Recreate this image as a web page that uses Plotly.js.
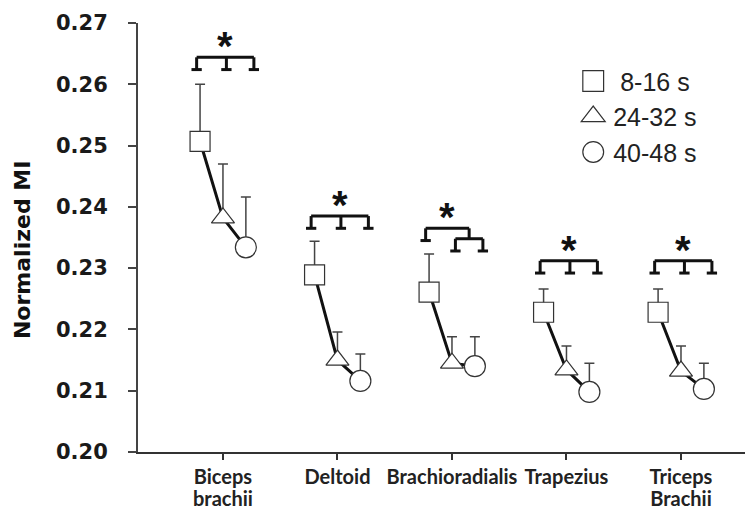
<!DOCTYPE html>
<html>
<head>
<meta charset="utf-8">
<script src="https://cdn.plot.ly/plotly-3.0.1.min.js"></script>
<style>
  html, body { margin: 0; padding: 0; background: #fff; }
  #chart { width: 745px; height: 509px; }
  /* larger symbols in the legend (legend markers are capped at 16px) */
  #chart .legendpoints path.scatterpts {
    transform: translate(20px, 0px) scale(1.3);
    vector-effect: non-scaling-stroke;
  }
</style>
</head>
<body>
<div id="chart"></div>
<script>
// Muscles on the x axis
const muscles = ['Biceps<br>brachii', 'Deltoid', 'Brachioradialis', 'Trapezius', 'Triceps<br>Brachii'];

// Normalized MI per time window (mean) and upper error (SD)
const window1Name = '\u00a08-16 s';
const window2Name = '24-32 s';
const window3Name = '40-48 s';
const mi8to16  = [0.2507, 0.2289, 0.2261, 0.2228, 0.2228];
const mi24to32 = [0.2382, 0.2150, 0.2145, 0.2134, 0.2132];
const mi40to48 = [0.2334, 0.2116, 0.2140, 0.2098, 0.2103];
const sd8to16  = [0.0093, 0.0055, 0.0062, 0.0038, 0.0038];
const sd24to32 = [0.0088, 0.0046, 0.0043, 0.0039, 0.0041];
const sd40to48 = [0.0082, 0.0044, 0.0048, 0.0047, 0.0042];

// Significance brackets: level of the top bar, and of a nested inner bar (if any)
const sigLevel      = [0.2644, 0.2385, 0.2365, 0.2312, 0.2312];
const sigInnerLevel = [null,   null,   0.2348, null,   null];

// ---- layout constants ----
const OFF = [-0.2, 0, 0.2];            // x offset of each time window inside a group
const LEG = [-0.23, 0.03, 0.27];       // bracket leg positions inside a group
const LEG_H = 0.002;                   // bracket leg height (data units)
const FOOT = 0.045;                    // half width of a bracket foot (x units)
const INK = '#111';

const idx = muscles.map((_, i) => i);
const series = [
  {name: window1Name, y: mi8to16,  e: sd8to16,  sym: 'square',      size: 20},
  {name: window2Name, y: mi24to32, e: sd24to32, sym: 'triangle-up', size: 20},
  {name: window3Name, y: mi40to48, e: sd40to48, sym: 'circle',      size: 21}
];

// connecting line inside each group (null separates groups)
const lineX = [], lineY = [];
idx.forEach(i => {
  series.forEach((s, k) => { lineX.push(i + OFF[k]); lineY.push(s.y[i]); });
  lineX.push(null); lineY.push(null);
});

const traces = [{
  type: 'scatter', mode: 'lines', x: lineX, y: lineY,
  line: {color: INK, width: 3}, showlegend: false, hoverinfo: 'skip'
}];

series.forEach((s, k) => {
  traces.push({
    type: 'scatter', mode: 'markers', name: s.name,
    x: idx.map(i => i + OFF[k]), y: s.y,
    marker: {symbol: s.sym, size: s.size, color: '#fff', line: {color: '#333', width: 1.2}},
    error_y: {type: 'data', symmetric: false, array: s.e, arrayminus: s.e.map(() => 0),
              color: '#444', thickness: 1.5, width: 5}
  });
});

// bracket shapes
const shapes = [];
function seg(x0, y0, x1, y1) {
  shapes.push({type: 'line', xref: 'x', yref: 'y', x0, y0, x1, y1,
               line: {color: INK, width: 3}, layer: 'above'});
}
function leg(x, top, bottom) {
  seg(x, top, x, bottom);
  seg(x - FOOT, bottom, x + FOOT, bottom);
}
const annotations = [];
idx.forEach(i => {
  const top = sigLevel[i];
  const inner = sigInnerLevel[i];
  let starX;
  if (inner === null) {
    seg(i + LEG[0], top, i + LEG[2], top);
    LEG.forEach(d => leg(i + d, top, top - LEG_H));
    starX = i + (LEG[0] + LEG[2]) / 2;
  } else {
    const mid = (LEG[1] + LEG[2]) / 2;
    seg(i + LEG[0], top, i + mid, top);
    leg(i + LEG[0], top, top - LEG_H);
    seg(i + mid, top, i + mid, inner);
    seg(i + LEG[1], inner, i + LEG[2], inner);
    leg(i + LEG[1], inner, inner - LEG_H);
    leg(i + LEG[2], inner, inner - LEG_H);
    starX = i + (LEG[0] + mid) / 2;
  }
  annotations.push({
    xref: 'x', yref: 'y', x: starX, y: top, text: '*', showarrow: false,
    yanchor: 'middle', yshift: 11,
    font: {family: 'Liberation Sans, Arial, sans-serif', size: 40, weight: 'bold', color: INK}
  });
});

// y axis title, centred on the data band of the axis
annotations.push({
  xref: 'paper', yref: 'paper', x: -0.19, y: 0.47, xanchor: 'center', yanchor: 'middle',
  text: 'Normalized MI', textangle: -90, showarrow: false,
  font: {family: 'DejaVu Sans, sans-serif', size: 22, weight: 'bold', color: '#111'}
});

const layout = {
  width: 745, height: 509,
  margin: {l: 138, r: 0, t: 23, b: 57},
  paper_bgcolor: '#fff', plot_bgcolor: '#fff',
  showlegend: true,
  legend: {
    x: 0.717, y: 0.918, xanchor: 'left', yanchor: 'top',
    bgcolor: 'rgba(0,0,0,0)', borderwidth: 0,
    font: {family: 'Liberation Sans, Arial, sans-serif', size: 25, color: '#222'}
  },
  xaxis: {
    range: [-0.742, 4.559], tickmode: 'array', tickvals: idx, ticktext: muscles,
    showgrid: false, zeroline: false, showline: true, linecolor: '#333', linewidth: 2,
    ticks: 'outside', ticklen: 6, tickwidth: 2, tickcolor: '#333',
    tickangle: 0, ticklabelstandoff: 0,
    tickfont: {family: 'Lato, sans-serif', size: 20, weight: 'bold', color: '#222'}
  },
  yaxis: {
    range: [0.2, 0.27], tickmode: 'linear', tick0: 0.2, dtick: 0.01, tickformat: '.2f',
    showgrid: false, zeroline: false, showline: true, linecolor: '#444', linewidth: 2,
    ticks: 'outside', ticklen: 8, tickwidth: 2, tickcolor: '#444',
    ticklabelstandoff: 16,
    tickfont: {family: 'DejaVu Sans, sans-serif', size: 21, weight: 'bold', color: '#1a1a1a'}
  },
  shapes: shapes,
  annotations: annotations
};

Plotly.newPlot('chart', traces, layout, {displayModeBar: false, staticPlot: true}).then(gd => {
  // tighter leading for the two-line muscle names
  gd.querySelectorAll('.xtick text tspan.line').forEach(t => {
    const dy = parseFloat(t.getAttribute('dy'));
    if (dy > 0) t.setAttribute('dy', (dy * 1.12 / 1.3) + 'em');
  });
});
</script>
</body>
</html>
